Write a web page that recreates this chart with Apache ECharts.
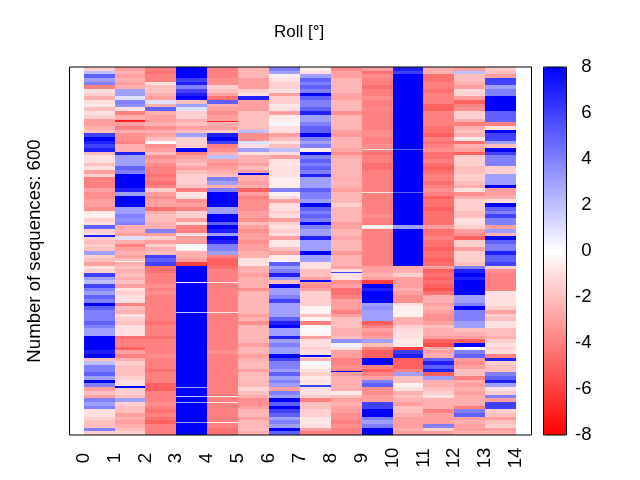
<!DOCTYPE html>
<html><head><meta charset="utf-8">
<style>html,body{margin:0;padding:0;background:#fff}#c{width:640px;height:480px}</style>
<script src="https://cdn.jsdelivr.net/npm/echarts@6/dist/echarts.min.js"></script>
</head><body><div id="c"></div>
<script>
const titleText = 'Roll [°]';
const yLabel = 'Number of sequences: 600';
const xTicks = [0,1,2,3,4,5,6,7,8,9,10,11,12,13,14];
const colorbarTicks = [-8,-6,-4,-2,0,2,4,6,8];
const sequenceCount = 600;
const col0 = [-1.5,2,5,3,4,-4,-1,-1.5,-2.5,-1, -0.8,-2,-1,-1.5,-3,-3,-2.5,-2,6,8, 7,6,7,-2,-1,-1,-2,-1,-3,-1.5, -4,-4,-4,-3,-3.5,-3.5,-3,-3,-3.5,-0.7, -0.5,-1.5,-1,5,-1.5,-1,-1.5,-2,-1.5,-2, 3,-1.5,-2,-3,-1,-1.5,6,3,2,6, 4,3,5,4,8,5,4,4,4,5, 4,3,3,8,8,8,8,7,8,-2, 2,4,4,5,3,8,4,-3,-2,-3, 4,3,4,-1,-1,-1.5,-2,-2,4,-1.5];
const col1 = [-3,-2.5,-3,-2.5,-3,-2.5,3,3,1,4, 3.5,-1,-4,-2.5,-3,-3,-4,-2.5,-3.5,-3.5, -4,-2.5,-2.5,7,3,3,3,5,4,8, 8,8,8,7,3,8,8,8,3,3, 4,3.5,4,-2.5,-2.5,-3,1,-2.5,-4,-3, -2.5,-3,-2,-2.5,-2,-2.5,-2,-2.5,-2,-3, -1,-1.5,-1,-1,-4,-2,-2.5,-1,-1.5,-2, -1,-1,-1,-4.5,-4,-4,-5,-3,-4,-2.5, -1.5,-2,-2,-2,-1.5,-1,-1,-1.5,-1.5,-2, 3,-1.5,-2,-2,-3,-2.5,-3,-2.5,-2,-1.5];
const col2 = [-4,-4.5,-4,-4,-1,-2,-2,-2.5,-3,1, -2.5,5,-2.5,-3,-3,-2.5,-3.5,-2.5,-3,-2, 0,-3.5,-3,-2,-3.5,-3,-3.5,-4,-4,-4.5, -4,-4.5,-4,-1.5,-3,-3.5,-3,-3,-4.5,-2.5, -2,-2,-2.5,-2.5,4,-3,-1.5,-3,-1.5,-2.5, -2,6,5,6,-4.5,-4.5,-4,-4,-4,-3.5, -4,-3.5,-4,-4,-4,-4,-4,-4,-4,-4.5, -4,-4,-4,-4.5,-4,-4,-4,-4,-3.5,-4, -4,-4,-4.5,-4,-4,-4,-5,-5,-4,-4, -4,-3.5,-4,-4.5,-4,-4.5,-5,-4,-4,-4];
const col3 = [8,8,8,6,7,4,6,7,8,-2, 3,1,-1.5,-1.5,-2.5,-2,-3,-2,3,-1.5, -1.5,-1.5,8,-4,-3,-2.5,-2,-3,-2,-1.5, -1.5,-1.5,-2,-4,-0.8,-1,-3.5,-3,-4,-1.5, -1.5,-3,-1,-4,-4,-1,-3,-3,-0.2,-0.3, -2.5,-2.5,-3,-6,8,8,8,8,8,8, 8,8,8,8,8,8,8,8,8,8, 8,8,8,8,8,8,8,8,8,8, 8,8,8,8,8,8,8,8,8,8, 8,8,8,8,8,8,8,8,8,8];
const col4 = [-4,-4,-4,-3.5,-3.5,-1.5,-2,-3,-4.5,5, -2.5,-3,-3.5,-3,-3,-2.5,-3,-1.5,7,8, 6,-4,-3.5,-2.5,2,-3,-3.5,-3,-2.5,-2, 4,3,-2.5,4,8,8,8,8,3,3, 8,8,5,8,7,3,8,7,4,4, 3,-4,-5,-5,-4.5,-4,-4,-4,-4,-4, -4,-4,-4,-4,-4,-4,-4,-4,-4,-4, -4,-4,-4,-4,-4,-4,-4,-3.5,-4,-4, -4,-4,-4,-4,-4,-4,-4,-4,-4,-4, -4,-4,-4,-4,-4,-4,-4,-4,-4.5,-4.5];
const col5 = [-2.3,-2.3,-2.3,-3,-3,-3,-1.5,-1,7,-3, -3,-3,-2,-2,-2,-2,-2,2,-3.5,-3.5, 1,-1,3,-1,-2.5,-2.5,-3,-2,-3,-2.5, -2.5,-3,-2.5,-5,-3,-4,-3.5,-3.5,-3.5,-3, -3,-3.5,-2,-3,-3.5,-3,-3,-3.5,-3,-3, -2.5,-2.5,-1,-1,-2.5,-2.5,-3,-2.5,-2.5,-2.5, -3.5,-2.3,-2.3,-2.3,-2.3,-2.3,-2.3,-3,-2.5,-3.5, -2.3,-2.3,-2.3,-2.3,-2.3,-3,-2.3,-2.3,-3,-2.5, -2.2,-2.2,-3,-2.2,-2,-2.2,-2.2,-1.3,-2,-2.5, -3.5,-3.5,-3,-2.3,-2.3,-3,-2.3,-2.3,-2,-2.5];
const col6 = [4,3,-0.6,-1,-1.5,-1.5,-1,-3,-1.5,-1.5, -0.8,-1,-3,-0.7,-0.5,0.3,-1,-1,-3,-2, -1,-2,2,-1,-3,-1,-0.8,-1,-1,-1, -0.6,-0.6,-0.6,4,-0.5,-1,-3,-1,-1,-1.5, -1,-3,-1.5,-1,-1.5,-1,-3,-0.8,-0.8,-2, -3,-0.6,-0.6,5,3,4,7,3,-2,8, 3,3,4,6,3,3,3,3,5,7, 8,3,3,7,3,4,3,3,8,6, 4,4,3,5,3,4,3,-3,4,3, 8,5,8,6,5,3,4,3,8,5];
const col7 = [-0.5,-1,3,5,4,5,4,8,5,4, 4,5,7,3,3,4,5,5,8,4, 3,4,-0.5,8,4,5,4,5,4,7, 3,3,3,5,4,4,3,8,5,4, 5,4,8,4,3,3,7,3,3,3, 8,3,3,-1,-1,-2,-2,-3,-3,-3.5, -3,-1.5,-1.5,-1.5,-1.5,-0.4,-0.4,-2,-0.5,-4, -0.3,0.2,-0.4,-3,-1,-1,-1.5,-1,-1,-2.5, 0.2,-0.5,-1,-1.5,-0.7,-1,-0.7,-1,-1,-1.5, -4,-2,-2,-1.5,-1.5,-0.8,-0.8,-1,-3,-4];
const col8 = [-3.5,-3,-3,-2.3,-2.3,-2.3,-2.3,-2.8,-3,-2.3, -2.3,-2.3,-3.5,-2.3,-2.3,-2.3,-2.3,-3,-3.2,-2.4, -2.4,-2.4,-2.8,-3.5,-2.6,-2.3,-2.3,-2.3,-2.3,-2.3, -2.5,-2.3,-2.5,-3,-2.3,-2.3,-2.3,-1.5,-2.3,-2.3, -2.3,-2.3,-3,-3,-2.4,-2.3,-2.8,-2.3,-2.3,-2.3, -3.3,-2.4,-2.4,-2.4,-3,-1,-1,-1,-3.5,-3, -4.5,-4.5,-4,-3,-3,-3,-4,-3,-2,-2, -2,-2.5,-2.5,-2,3.5,0.5,-1,-3,-3,-4, -4,-3.5,-4,-3,-2.5,-2.5,-2.5,-2.5,-0.7,-2, -3,-2.5,-3,-3,-3.5,-3.5,-4,-3.5,-4,-4];
const col9 = [-3,-4.5,-3.5,-4,-4,-4.5,-4,-4,-3.5,-4, -4,-3.8,-4,-4,-4,-4,-4,-3.5,-3.5,-4, -4,-3.5,-4,-4.5,-4,-4,-4.5,-4.5,-4,-4, -4,-4,-4,-4,-4,-4,-4,-4,-4,-4, -3.5,-4,-4,-0.5,-4,-4,-4,-4,-4,-4, -4,-4,-4,-4,-3,-3,-2.5,-3,-6,8, 7,8,8,8,3,3.5,3,3,3,-5, -4,-3,-3.5,-3,3,-2,-4,-5,-5,8, 8,-4,-5,-4,-3,4,5,-3.5,-3.5,-3, -3,6,6,8,8,4,3,4,8,8];
const col10 = [7,6,8,8,8,8,8,8,8,8, 8,8,8,8,8,8,8,8,8,8, 8,8,8,8,8,8,8,8,8,8, 8,8,8,8,8,8,8,8,8,8, 8,8,8,3,8,8,8,8,8,8, 8,8,8,8,-2.5,-2.5,-1.5,-3,-3,-3, -2.5,-3,-3.5,-3.5,-1,-0.5,-0.5,-0.5,-2.5,-2.5, -1.5,-1.2,-1,-1,-0.7,-0.7,-6,6,7,-5, -5,-5,-4,3,-2,-2,-0.5,-1,-2.5,-2, -2.5,-3,-2,-2,-2.5,-3,-3,-3,-2.5,-3];
const col11 = [-2.5,-2.5,-4.5,-4.5,-4,-4,-4.5,-4,-4,-4, -5,-5,-4,-4,-4,-4,-4.5,-4.5,-5,-4, -4.5,-4,-3.5,-4.5,-4.5,-4,-4.5,-5,-4.5,-4, -4,-4.5,-4,-3.5,-4,-5,-4.5,-4.5,-5,-4.5, -4.5,-4.5,-4.5,-3,-4.5,-4.5,-4,-4.5,-4.5,-5, -4.5,-4.5,-5,-4.5,-3,-5,-4.5,-5,-4.5,-5, -5.5,-4.5,-2.5,-2.5,-3,-2.5,-3,-3.5,-3.5,-3, -2,-2.5,-2.5,-3,-5,-5.5,-2.5,-3,-2.5,5, 7,5,7,-5,3,-2.5,-2.5,-2,-1.5,-1, -2.5,-2.5,-2.5,-4,-3,-3,-3,4,-1.5,-3];
const col12 = [-3,2,-2,-2,-2.5,-3,-1.3,-1.5,-3,-5, -4,-3.5,-1.5,-1.5,-2.5,-4,-2.5,-2,-2.5,-0.8, -4.5,-2.5,-3,-5,-1.5,-1.5,-1.5,-2,-2,-1.5, -1.5,-2,-2.5,-1,-3.5,-2.5,-1.5,-1.5,-1.5,-2, -2,-1,-1,-1.5,-3,-3.5,-5,-1.5,-1.5,-3, -1.5,-1.5,-1.5,-2,4,7,8,7,8,8, 8,8,3,3,4,8,4,4,4,3, 3,-2,-2.5,-3,-5,8,0,4,5,-3, -3.5,-3,-2,-2,-4,-2.5,-3,-2.5,-3,-2.5, -2.5,-2.5,-4,4,5,-3,-2.5,-3,-3,-2.5];
const col13 = [-1.5,-2,-3,6,6,3,4,4,8,8, 8,8,5,5,5,-4,-1,8,6,6, 3,-2,8,6,4,4,4,-1.5,-1.5,3, 3,3,8,-3,-3,-2.5,-1,8,5,4, 6,4,4,-3,3,-2.5,8,5,4,4, 7,5,5,6,-1.5,-3.5,-4,-4,-4,-4, -4,-1,-1,-1,-1,-1.5,-3,-1.5,-2,-1, -1,-2,-2,-2.5,-1.5,-1,-1.5,-1,-4,7, -1.5,-2,-2,4,5,7,3,-1,-1.5,4, -3,6,6,-1.5,-2,-3,-2,-1.5,-3,-2.5];
const columns = [col0,col1,col2,col3,col4,col5,col6,col7,col8,col9,col10,col11,col12,col13];
// short runs of sequences that stand out from their neighbours
const runColumn = [3,3,3,3,3,3, 4,4,4,4,4, 9,9, 10,10, 1,1,1, 4, 8,8, 7,7,7, 5, 0];
const runStart  = [350,400,521,536,547,579, 350,400,536,547,579, 133,204, 133,204, 87,316,520, 88, 495,334, 347,470,519, 173, 274];
const runValue  = [-0.5,2,3,2,3,3, -0.5,-0.5,-0.5,-0.5,-0.5, -0.5,-0.5, 5,5, -7,-0.2,8, -7, 8,6, 8,8,6, 8, 7];
const runLength = [1,1,1,1,1,1, 1,1,1,1,1, 1,1, 1,1, 2,1,3, 2, 3,2, 3,3,2, 3, 3];

const cells = [];
columns.forEach((vals, c) => vals.forEach((v, r) => {
  const span = sequenceCount / vals.length;
  cells.push([c, r * span, v, span]);
}));
runColumn.forEach((c, i) => cells.push([c, runStart[i], runValue[i], runLength[i]]));

const font = 'Liberation Sans';
const chart = echarts.init(document.getElementById('c'), null, {renderer:'canvas', width:640, height:480});
chart.setOption({
  animation:false,
  backgroundColor:'#fff',
  title:{text:titleText,left:274,top:24,padding:0,textStyle:{fontFamily:font,fontSize:17,fontWeight:'normal',color:'#000'}},
  grid:[
    {left:69.5,top:67,width:462,height:368,show:true,borderColor:'#000',borderWidth:1,backgroundColor:'transparent',z:5},
    {left:543.5,top:67,width:23,height:368,show:true,borderColor:'#000',borderWidth:1,backgroundColor:'transparent',z:10}
  ],
  xAxis:[
    {type:'value',gridIndex:0,min:-0.46,max:14.5,splitLine:{show:false},axisLine:{show:false},axisTick:{show:false},
     axisLabel:{customValues:xTicks,rotate:90,align:'center',fontFamily:font,fontSize:18.6,color:'#000',margin:23,formatter:v=>String(v),hideOverlap:false}},
    {type:'value',gridIndex:1,min:0,max:1,show:false}
  ],
  yAxis:[
    {type:'value',gridIndex:0,min:0,max:sequenceCount,inverse:true,splitLine:{show:false},axisLine:{show:false},axisTick:{show:false},axisLabel:{show:false},
     name:yLabel,nameLocation:'middle',nameRotate:90,nameGap:25,nameTextStyle:{fontFamily:font,fontSize:18.6,color:'#000'}},
    {type:'value',gridIndex:1,min:-8,max:8,interval:2,position:'right',splitLine:{show:false},axisLine:{show:false},axisTick:{show:false},
     axisLabel:{fontFamily:font,fontSize:18.6,color:'#000',margin:25,align:'right',customValues:colorbarTicks,formatter:v=>String(v)}}
  ],
  visualMap:{type:'continuous',min:-8,max:8,dimension:2,seriesIndex:0,left:543.5,top:67,itemWidth:23,itemHeight:368,padding:0,
    calculable:false,realtime:false,hoverLink:false,text:null,showLabel:false,inRange:{color:['#ff0000','#ffffff','#0000ff']},textStyle:{color:'transparent'},formatter:()=>''},
  series:[{
    type:'custom',coordinateSystem:'cartesian2d',xAxisIndex:0,yAxisIndex:0,silent:true,clip:true,
    encode:{x:0,y:1},data:cells,
    renderItem:(params,api)=>{
      const a=api.coord([api.value(0),api.value(1)]);
      const b=api.coord([api.value(0)+1,api.value(1)+api.value(3)]);
      const x0=Math.round(a[0]),y0=Math.round(a[1]),x1=Math.round(b[0]),y1=Math.round(b[1]);
      return {type:'rect',shape:{x:x0,y:y0,width:x1-x0,height:Math.max(1,y1-y0)},style:{fill:api.visual('color')}};
    }
  }]
});
</script></body></html>
